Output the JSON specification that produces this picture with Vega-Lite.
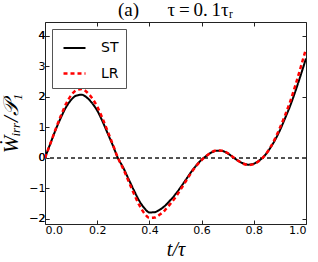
{
  "$schema": "https://vega.github.io/schema/vega-lite/v6.json",
  "width": 261,
  "height": 202,
  "autosize": {"type": "none"},
  "padding": {"left": 45, "top": 22, "right": 12, "bottom": 38},
  "background": "white",
  "title": {"text": "(a)\u2003\u2002τ\u2009=\u20090.\u20091τᵣ", "font": "Liberation Serif", "fontSize": 19, "fontWeight": "normal", "offset": 2, "anchor": "middle", "color": "black"},
  "config": {
    "view": {"stroke": "#222", "strokeWidth": 1},
    "axis": {"domain": false, "grid": false, "tickColor": "#222", "tickSize": -4, "tickWidth": 1, "labelFont": "DejaVu Sans", "labelFontSize": 11, "labelColor": "black", "titleColor": "black", "labelPadding": 4}
  },
  "datasets": {
    "curves": [
      {"t": 0.00, "v": 0.00, "s": "ST"}, {"t": 0.02, "v": 0.45, "s": "ST"}, {"t": 0.04, "v": 0.90, "s": "ST"}, {"t": 0.06, "v": 1.30, "s": "ST"}, {"t": 0.08, "v": 1.65, "s": "ST"}, {"t": 0.10, "v": 1.90, "s": "ST"}, {"t": 0.12, "v": 2.04, "s": "ST"}, {"t": 0.14, "v": 2.07, "s": "ST"}, {"t": 0.16, "v": 1.98, "s": "ST"}, {"t": 0.18, "v": 1.80, "s": "ST"}, {"t": 0.20, "v": 1.55, "s": "ST"}, {"t": 0.22, "v": 1.20, "s": "ST"}, {"t": 0.24, "v": 0.80, "s": "ST"}, {"t": 0.26, "v": 0.40, "s": "ST"}, {"t": 0.28, "v": -0.02, "s": "ST"}, {"t": 0.30, "v": -0.33, "s": "ST"}, {"t": 0.32, "v": -0.70, "s": "ST"}, {"t": 0.34, "v": -1.06, "s": "ST"}, {"t": 0.36, "v": -1.40, "s": "ST"}, {"t": 0.38, "v": -1.65, "s": "ST"}, {"t": 0.40, "v": -1.80, "s": "ST"}, {"t": 0.42, "v": -1.79, "s": "ST"}, {"t": 0.44, "v": -1.71, "s": "ST"}, {"t": 0.46, "v": -1.58, "s": "ST"}, {"t": 0.48, "v": -1.40, "s": "ST"}, {"t": 0.50, "v": -1.20, "s": "ST"}, {"t": 0.52, "v": -0.97, "s": "ST"}, {"t": 0.54, "v": -0.72, "s": "ST"}, {"t": 0.56, "v": -0.47, "s": "ST"}, {"t": 0.58, "v": -0.25, "s": "ST"}, {"t": 0.60, "v": -0.07, "s": "ST"}, {"t": 0.62, "v": 0.07, "s": "ST"}, {"t": 0.64, "v": 0.18, "s": "ST"}, {"t": 0.66, "v": 0.23, "s": "ST"}, {"t": 0.68, "v": 0.22, "s": "ST"}, {"t": 0.70, "v": 0.14, "s": "ST"}, {"t": 0.72, "v": 0.02, "s": "ST"}, {"t": 0.74, "v": -0.10, "s": "ST"}, {"t": 0.76, "v": -0.19, "s": "ST"}, {"t": 0.78, "v": -0.23, "s": "ST"}, {"t": 0.80, "v": -0.20, "s": "ST"}, {"t": 0.82, "v": -0.10, "s": "ST"}, {"t": 0.84, "v": 0.05, "s": "ST"}, {"t": 0.86, "v": 0.28, "s": "ST"}, {"t": 0.88, "v": 0.56, "s": "ST"}, {"t": 0.90, "v": 0.90, "s": "ST"}, {"t": 0.92, "v": 1.30, "s": "ST"}, {"t": 0.94, "v": 1.72, "s": "ST"}, {"t": 0.96, "v": 2.20, "s": "ST"}, {"t": 0.98, "v": 2.72, "s": "ST"}, {"t": 1.00, "v": 3.26, "s": "ST"},
      {"t": 0.00, "v": 0.00, "s": "LR"}, {"t": 0.02, "v": 0.45, "s": "LR"}, {"t": 0.04, "v": 0.92, "s": "LR"}, {"t": 0.06, "v": 1.36, "s": "LR"}, {"t": 0.08, "v": 1.76, "s": "LR"}, {"t": 0.10, "v": 2.05, "s": "LR"}, {"t": 0.12, "v": 2.22, "s": "LR"}, {"t": 0.14, "v": 2.26, "s": "LR"}, {"t": 0.16, "v": 2.16, "s": "LR"}, {"t": 0.18, "v": 1.96, "s": "LR"}, {"t": 0.20, "v": 1.68, "s": "LR"}, {"t": 0.22, "v": 1.30, "s": "LR"}, {"t": 0.24, "v": 0.87, "s": "LR"}, {"t": 0.26, "v": 0.43, "s": "LR"}, {"t": 0.28, "v": -0.02, "s": "LR"}, {"t": 0.30, "v": -0.37, "s": "LR"}, {"t": 0.32, "v": -0.77, "s": "LR"}, {"t": 0.34, "v": -1.17, "s": "LR"}, {"t": 0.36, "v": -1.54, "s": "LR"}, {"t": 0.38, "v": -1.82, "s": "LR"}, {"t": 0.40, "v": -1.98, "s": "LR"}, {"t": 0.42, "v": -1.97, "s": "LR"}, {"t": 0.44, "v": -1.87, "s": "LR"}, {"t": 0.46, "v": -1.72, "s": "LR"}, {"t": 0.48, "v": -1.52, "s": "LR"}, {"t": 0.50, "v": -1.30, "s": "LR"}, {"t": 0.52, "v": -1.04, "s": "LR"}, {"t": 0.54, "v": -0.77, "s": "LR"}, {"t": 0.56, "v": -0.50, "s": "LR"}, {"t": 0.58, "v": -0.27, "s": "LR"}, {"t": 0.60, "v": -0.08, "s": "LR"}, {"t": 0.62, "v": 0.07, "s": "LR"}, {"t": 0.64, "v": 0.19, "s": "LR"}, {"t": 0.66, "v": 0.24, "s": "LR"}, {"t": 0.68, "v": 0.23, "s": "LR"}, {"t": 0.70, "v": 0.15, "s": "LR"}, {"t": 0.72, "v": 0.02, "s": "LR"}, {"t": 0.74, "v": -0.10, "s": "LR"}, {"t": 0.76, "v": -0.20, "s": "LR"}, {"t": 0.78, "v": -0.24, "s": "LR"}, {"t": 0.80, "v": -0.21, "s": "LR"}, {"t": 0.82, "v": -0.11, "s": "LR"}, {"t": 0.84, "v": 0.05, "s": "LR"}, {"t": 0.86, "v": 0.29, "s": "LR"}, {"t": 0.88, "v": 0.60, "s": "LR"}, {"t": 0.90, "v": 0.98, "s": "LR"}, {"t": 0.92, "v": 1.40, "s": "LR"}, {"t": 0.94, "v": 1.86, "s": "LR"}, {"t": 0.96, "v": 2.40, "s": "LR"}, {"t": 0.98, "v": 2.98, "s": "LR"}, {"t": 1.00, "v": 3.58, "s": "LR"}
    ]
  },
  "data": {"name": "curves"},
  "layer": [
    {
      "mark": {"type": "rule", "color": "#555", "strokeDash": [4, 3], "strokeWidth": 1},
      "encoding": {"y": {"datum": 0, "type": "quantitative"}}
    },
    {
      "mark": {"type": "line", "interpolate": "monotone", "clip": true},
      "encoding": {
        "x": {"field": "t", "type": "quantitative", "scale": {"domain": [0, 1], "nice": false, "zero": false},
              "axis": {"orient": "bottom", "values": [0, 0.2, 0.4, 0.6, 0.8, 1.0], "format": ".1f", "title": "t/τ", "titleFont": "Liberation Serif", "titleFontStyle": "italic", "titleFontWeight": "normal", "titleFontSize": 20, "titlePadding": 4}},
        "y": {"field": "v", "type": "quantitative", "scale": {"domain": [-2.18, 4.46], "nice": false, "zero": false},
              "axis": {"orient": "left", "values": [-2, 0, 2, 4], "format": "d", "title": "Ẇᵢᵣᵣ/𝒫₁", "titleFont": "Liberation Serif", "titleFontStyle": "italic", "titleFontWeight": "normal", "titleFontSize": 21, "titlePadding": 7}},
        "color": {"field": "s", "type": "nominal", "scale": {"domain": ["ST", "LR"], "range": ["black", "red"]},
                  "legend": {"title": null, "orient": "none", "legendX": 7, "legendY": 7, "padding": 7, "rowPadding": 6, "strokeColor": "#555", "fillColor": "white", "cornerRadius": 0, "symbolType": "stroke", "symbolSize": 484, "symbolStrokeWidth": 2, "symbolOffset": 3, "labelOffset": 14, "labelFont": "DejaVu Sans", "labelFontSize": 14, "labelColor": "black"}},
        "strokeDash": {"field": "s", "type": "nominal", "scale": {"domain": ["ST", "LR"], "range": [[1, 0], [4, 3]]}},
        "strokeWidth": {"field": "s", "type": "nominal", "scale": {"domain": ["ST", "LR"], "range": [2, 2.5]}, "legend": null}
      }
    },
    {
      "mark": {"type": "point", "opacity": 0},
      "encoding": {
        "x": {"field": "t", "type": "quantitative", "axis": {"orient": "top", "values": [0, 0.2, 0.4, 0.6, 0.8, 1.0], "labels": false, "title": null}},
        "y": {"field": "v", "type": "quantitative", "axis": {"orient": "right", "values": [-2, 0, 2, 4], "labels": false, "title": null}}
      }
    }
  ]
}
